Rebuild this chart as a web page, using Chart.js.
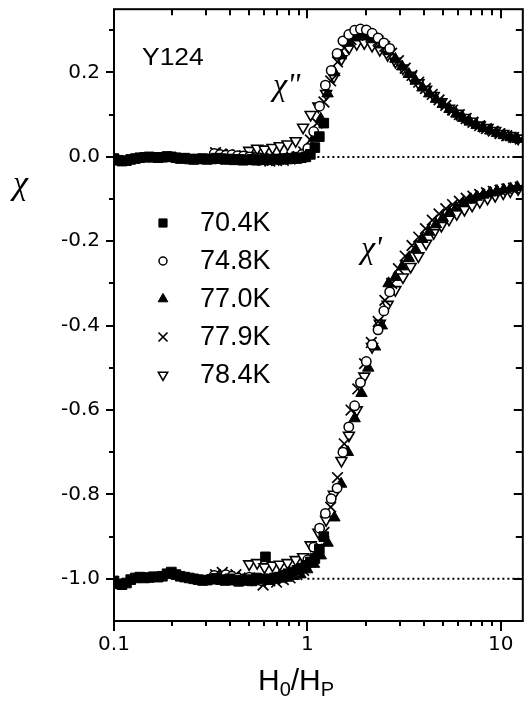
<!DOCTYPE html>
<html>
<head>
<meta charset="utf-8">
<script src="https://cdn.jsdelivr.net/npm/chart.js@4.4.1/dist/chart.umd.min.js"></script>
<style>
  html, body { margin: 0; padding: 0; background: #fff; }
  #chi-chart { display: block; }
</style>
</head>
<body>
<canvas id="chi-chart" width="532" height="708"></canvas>
<script>
// temperatures in the legend
const tempLabels = ['70.4K', '74.8K', '77.0K', '77.9K', '78.4K'];

// 70.4K : reduced field H0/Hp, chi' and chi''
const h704 = [0.100, 0.105, 0.110, 0.116, 0.122, 0.129, 0.136, 0.144, 0.152, 0.160, 0.169, 0.178, 0.188, 0.198, 0.209, 0.220,
  0.232, 0.245, 0.258, 0.272, 0.287, 0.303, 0.320, 0.337, 0.356, 0.375, 0.396, 0.418, 0.441, 0.465, 0.490, 0.517,
  0.546, 0.576, 0.607, 0.641, 0.676, 0.713, 0.752, 0.793, 0.837, 0.883, 0.931, 0.982, 1.036, 1.093, 1.153, 1.216];
const chiR704 = [-1.005, -1.012, -1.014, -1.010, -1.002, -0.998, -0.996, -0.998, -0.997, -0.995, -0.996, -0.994, -0.988, -0.984, -0.990, -0.994,
  -0.996, -0.998, -1.000, -1.002, -1.004, -1.003, -1.001, -0.999, -1.002, -1.004, -1.000, -1.003, -1.006, -1.004, -1.002, -1.005,
  -0.998, -1.000, -0.948, -1.002, -0.998, -0.996, -0.992, -0.988, -0.984, -0.980, -0.975, -0.968, -0.960, -0.952, -0.930, -0.900];
const chiI704 = [-0.004, -0.008, -0.010, -0.009, -0.006, -0.004, -0.002, -0.001, 0.000, -0.001, -0.002, -0.001, 0.001, 0.000, -0.002, -0.004,
  -0.003, -0.005, -0.006, -0.005, -0.004, -0.006, -0.005, -0.003, -0.004, -0.006, -0.005, -0.007, -0.006, -0.008, -0.007, -0.006,
  -0.008, -0.007, -0.006, -0.007, -0.005, -0.006, -0.004, -0.005, -0.003, -0.004, -0.002, 0.000, 0.006, 0.022, 0.048, 0.080];

// 74.8K
const h748 = [0.330, 0.354, 0.379, 0.407, 0.436, 0.467, 0.501, 0.537, 0.576, 0.617, 0.662, 0.710, 0.761, 0.816, 0.875, 0.938,
  1.005, 1.078, 1.156, 1.239, 1.328, 1.424, 1.527, 1.637, 1.755, 1.881, 2.017, 2.163, 2.319, 2.486, 2.665];
const chiR748 = [-0.992, -0.995, -0.990, -0.994, -0.998, -1.000, -0.996, -1.002, -1.004, -1.000, -0.998, -0.996, -0.992, -0.990, -0.985, -0.975,
  -0.955, -0.925, -0.880, -0.845, -0.810, -0.785, -0.700, -0.640, -0.590, -0.535, -0.485, -0.445, -0.410, -0.365, -0.320];
const chiI748 = [0.008, 0.006, 0.004, 0.005, 0.003, 0.002, 0.000, -0.002, -0.003, -0.004, -0.005, -0.006, -0.005, -0.004, -0.001, 0.006,
  0.020, 0.060, 0.120, 0.170, 0.205, 0.245, 0.275, 0.290, 0.300, 0.303, 0.301, 0.293, 0.282, 0.270, 0.257];

// 77.0K
const h770 = [0.350, 0.379, 0.411, 0.446, 0.483, 0.524, 0.568, 0.615, 0.667, 0.723, 0.784, 0.850, 0.921, 0.998, 1.082, 1.173,
  1.272, 1.379, 1.494, 1.620, 1.756, 1.904, 2.064, 2.237, 2.425, 2.629, 2.850, 3.089, 3.349, 3.630, 3.935, 4.266,
  4.624, 5.013, 5.434, 5.891, 6.385, 6.922, 7.503, 8.134, 8.817, 9.558, 10.36, 11.23, 12.18];
const chiR770 = [-0.995, -0.998, -1.002, -1.000, -1.004, -1.003, -1.006, -1.004, -1.002, -1.000, -0.998, -0.994, -0.990, -0.978, -0.965, -0.945,
  -0.915, -0.855, -0.775, -0.700, -0.620, -0.560, -0.500, -0.450, -0.400, -0.300, -0.285, -0.260, -0.240, -0.220, -0.195, -0.178,
  -0.160, -0.145, -0.132, -0.120, -0.110, -0.102, -0.095, -0.090, -0.085, -0.081, -0.078, -0.075, -0.072];
const chiI770 = [0.006, 0.004, 0.002, 0.000, -0.002, -0.003, -0.005, -0.004, -0.006, -0.005, -0.003, -0.002, 0.004, 0.015, 0.045, 0.090,
  0.150, 0.200, 0.240, 0.270, 0.285, 0.290, 0.288, 0.280, 0.266, 0.250, 0.232, 0.214, 0.196, 0.180, 0.164, 0.150,
  0.137, 0.125, 0.113, 0.102, 0.092, 0.083, 0.075, 0.068, 0.062, 0.056, 0.051, 0.046, 0.042];

// 77.9K
const h779 = [0.335, 0.363, 0.394, 0.427, 0.463, 0.502, 0.544, 0.590, 0.639, 0.693, 0.751, 0.814, 0.882, 0.956, 1.036, 1.123,
  1.218, 1.320, 1.431, 1.551, 1.681, 1.822, 1.975, 2.141, 2.321, 2.516, 2.727, 2.956, 3.204, 3.473, 3.765, 4.081,
  4.424, 4.795, 5.198, 5.634, 6.108, 6.621, 7.177, 7.779, 8.432, 9.140, 9.908, 10.74, 11.64, 12.62];
const chiR779 = [-0.990, -0.985, -0.995, -0.990, -1.000, -0.998, -1.004, -1.015, -1.005, -1.008, -1.002, -0.998, -0.990, -0.980, -0.960, -0.930,
  -0.890, -0.830, -0.760, -0.680, -0.600, -0.550, -0.490, -0.440, -0.390, -0.340, -0.300, -0.265, -0.235, -0.210, -0.190, -0.170,
  -0.150, -0.135, -0.123, -0.113, -0.105, -0.098, -0.093, -0.089, -0.085, -0.082, -0.079, -0.076, -0.074, -0.072];
const chiI779 = [0.010, 0.006, 0.004, 0.002, 0.000, -0.003, -0.006, -0.008, -0.010, -0.009, -0.008, -0.005, 0.000, 0.012, 0.040, 0.080,
  0.130, 0.180, 0.225, 0.258, 0.278, 0.288, 0.290, 0.285, 0.275, 0.262, 0.246, 0.228, 0.210, 0.193, 0.177, 0.162,
  0.148, 0.135, 0.122, 0.111, 0.100, 0.091, 0.082, 0.074, 0.067, 0.061, 0.055, 0.050, 0.046, 0.042];

// 78.4K
const h784 = [0.50, 0.55, 0.60, 0.66, 0.72, 0.79, 0.87, 0.95, 1.04, 1.14, 1.25, 1.37, 1.50, 1.64, 1.80, 1.97,
  2.16, 2.37, 2.60, 2.85, 3.12, 3.42, 3.75, 4.11, 4.50, 4.93, 5.40, 5.92, 6.49, 7.11, 7.79, 8.54, 9.36, 10.3, 11.2, 12.3];
const chiR784 = [-0.965, -0.962, -0.972, -0.968, -0.966, -0.962, -0.955, -0.948, -0.920, -0.890, -0.860, -0.800, -0.720, -0.660, -0.600, -0.520,
  -0.450, -0.395, -0.350, -0.315, -0.285, -0.260, -0.235, -0.205, -0.180, -0.163, -0.148, -0.135, -0.125, -0.115, -0.106, -0.098, -0.092, -0.086, -0.081, -0.076];
const chiI784 = [0.015, 0.020, 0.018, 0.022, 0.026, 0.030, 0.038, 0.070, 0.100, 0.120, 0.150, 0.190, 0.232, 0.258, 0.268, 0.270,
  0.264, 0.254, 0.242, 0.226, 0.210, 0.193, 0.175, 0.160, 0.145, 0.130, 0.115, 0.103, 0.093, 0.084, 0.075, 0.069, 0.062, 0.055, 0.050, 0.044];

// dotted reference levels (chi''=0 and chi'=-1) above H0/Hp = 1
const refH = [1, 13];
const refImag = [0, 0];
const refReal = [-1, -1];

// axis ticks
const xMajorTicks = [0.1, 1, 10];
const xMinorTicks = [0.2, 0.3, 0.4, 0.5, 0.6, 0.7, 0.8, 0.9, 2, 3, 4, 5, 6, 7, 8, 9];
const yMajorTicks = [-1.0, -0.8, -0.6, -0.4, -0.2, 0.0, 0.2];
const yMinorTicks = [-0.9, -0.7, -0.5, -0.3, -0.1, 0.1, 0.3];

// marker look for each temperature
const markers = [
  { pointStyle: 'rect', radius: 6.8, rotation: 0, fill: '#000', borderWidth: 1 },
  { pointStyle: 'circle', radius: 4.7, rotation: 0, fill: '#fff', borderWidth: 1.5 },
  { pointStyle: 'triangle', radius: 6.6, rotation: 0, fill: '#000', borderWidth: 1 },
  { pointStyle: 'crossRot', radius: 7.5, rotation: 0, fill: '#000', borderWidth: 1.7 },
  { pointStyle: 'triangle', radius: 6.3, rotation: 180, fill: '#fff', borderWidth: 1.6 }
];

const fieldArrays = [h704, h748, h770, h779, h784];
const realArrays = [chiR704, chiR748, chiR770, chiR779, chiR784];
const imagArrays = [chiI704, chiI748, chiI770, chiI779, chiI784];

function toPoints(xs, ys) {
  return xs.map((x, i) => ({ x: x, y: ys[i] }));
}

const datasets = [];
tempLabels.forEach((label, k) => {
  const m = markers[k];
  const base = {
    showLine: false,
    pointStyle: m.pointStyle,
    pointRadius: m.radius,
    pointRotation: m.rotation,
    pointBackgroundColor: m.fill,
    pointBorderColor: '#000',
    pointBorderWidth: m.borderWidth,
    pointHoverRadius: m.radius
  };
  datasets.push(Object.assign({ label: label + " chi''", data: toPoints(fieldArrays[k], imagArrays[k]) }, base));
  datasets.push(Object.assign({ label: label + " chi'", data: toPoints(fieldArrays[k], realArrays[k]) }, base));
});
[refImag, refReal].forEach((ys, k) => {
  datasets.push({
    label: k === 0 ? 'zero' : 'minus one',
    data: toPoints(refH, ys),
    showLine: true,
    pointRadius: 0,
    borderColor: '#000',
    borderWidth: 2,
    borderDash: [2, 3],
    order: 10
  });
});

// frame with inward/outward tick marks
const frameTicks = {
  id: 'frameTicks',
  afterDraw(chart) {
    const ctx = chart.ctx;
    const a = chart.chartArea;
    const xs = chart.scales.x;
    const ys = chart.scales.y;
    ctx.save();
    ctx.strokeStyle = '#000';
    ctx.lineWidth = 2;
    ctx.beginPath();
    const seg = (x1, y1, x2, y2) => { ctx.moveTo(x1, y1); ctx.lineTo(x2, y2); };
    xMajorTicks.forEach(v => {
      const px = Math.round(xs.getPixelForValue(v));
      seg(px, a.bottom, px, a.bottom + 10);
      seg(px, a.top, px, a.top + 9);
    });
    xMinorTicks.forEach(v => {
      const px = Math.round(xs.getPixelForValue(v));
      seg(px, a.bottom, px, a.bottom + 5);
      seg(px, a.top, px, a.top + 6);
    });
    yMajorTicks.forEach(v => {
      const py = Math.round(ys.getPixelForValue(v));
      seg(a.left - 8, py, a.left, py);
      seg(a.right - 9, py, a.right, py);
    });
    yMinorTicks.forEach(v => {
      const py = Math.round(ys.getPixelForValue(v));
      seg(a.left - 5, py, a.left, py);
      seg(a.right - 7, py, a.right, py);
    });
    ctx.stroke();
    ctx.strokeRect(a.left, a.top, a.right - a.left, a.bottom - a.top);
    ctx.restore();
  }
};

// sample name, curve labels, axis titles and the legend
const chiLabels = {
  id: 'chiLabels',
  afterDraw(chart) {
    const ctx = chart.ctx;
    ctx.save();
    ctx.fillStyle = '#000';
    ctx.textBaseline = 'alphabetic';

    ctx.save();
    ctx.font = '23px "Liberation Sans", Arial, sans-serif';
    ctx.translate(142, 65);
    ctx.scale(1.15, 1);
    ctx.fillText('Y124', 0, 0);
    ctx.restore();

    ctx.font = 'italic 32px "Liberation Serif", "Times New Roman", serif';
    ctx.fillText('\u03C7"', 273, 95);
    ctx.fillText("\u03C7'", 361, 258);
    ctx.font = 'italic 34px "Liberation Serif", "Times New Roman", serif';
    ctx.fillText('\u03C7', 13, 194);

    // H0/HP
    let x = 258;
    const base = 690;
    const big = '30px "Liberation Sans", Arial, sans-serif';
    const small = '20px "Liberation Sans", Arial, sans-serif';
    [['H', big, 0], ['0', small, 6], ['/', big, 0], ['H', big, 0], ['P', small, 6]].forEach(p => {
      ctx.font = p[1];
      ctx.fillText(p[0], x, base + p[2]);
      x += ctx.measureText(p[0]).width;
    });

    // legend
    const rows = [223, 261, 299, 337, 375];
    ctx.font = '27px "Liberation Sans", Arial, sans-serif';
    ctx.textBaseline = 'middle';
    tempLabels.forEach((label, k) => {
      const m = markers[k];
      ctx.fillStyle = m.fill;
      ctx.strokeStyle = '#000';
      ctx.lineWidth = m.borderWidth;
      Chart.helpers.drawPoint(ctx, {
        pointStyle: m.pointStyle,
        radius: m.radius * 0.85,
        rotation: m.rotation,
        borderWidth: m.borderWidth
      }, 163, rows[k]);
      ctx.fillStyle = '#000';
      ctx.fillText(label, 200, rows[k] + 1);
    });
    ctx.restore();
  }
};

const tickFont = { family: '"DejaVu Sans", sans-serif', size: 20 };

new Chart(document.getElementById('chi-chart').getContext('2d'), {
  type: 'scatter',
  data: { datasets: datasets },
  options: {
    responsive: false,
    maintainAspectRatio: false,
    devicePixelRatio: 1,
    animation: false,
    events: [],
    layout: { padding: { left: 0, right: 7, top: 6, bottom: 0 } },
    plugins: {
      legend: { display: false },
      tooltip: { enabled: false }
    },
    scales: {
      x: {
        type: 'logarithmic',
        min: 0.1,
        max: 13,
        border: { display: false },
        grid: { display: false, drawTicks: false },
        afterBuildTicks: s => { s.ticks = xMajorTicks.map(v => ({ value: v })); },
        afterFit: s => { s.height = 87; s.paddingLeft = 0; s.paddingRight = 0; },
        ticks: {
          color: '#000',
          font: tickFont,
          padding: 12,
          maxRotation: 0,
          autoSkip: false,
          callback: v => String(v)
        }
      },
      y: {
        type: 'linear',
        min: -1.1,
        max: 0.35,
        border: { display: false },
        grid: { display: false, drawTicks: false },
        afterBuildTicks: s => { s.ticks = yMajorTicks.map(v => ({ value: v })); },
        afterFit: s => { s.width = 114; s.paddingTop = 0; s.paddingBottom = 0; },
        ticks: {
          color: '#000',
          font: tickFont,
          padding: 14,
          callback: v => v.toFixed(1)
        }
      }
    }
  },
  plugins: [frameTicks, chiLabels]
});
</script>
</body>
</html>
